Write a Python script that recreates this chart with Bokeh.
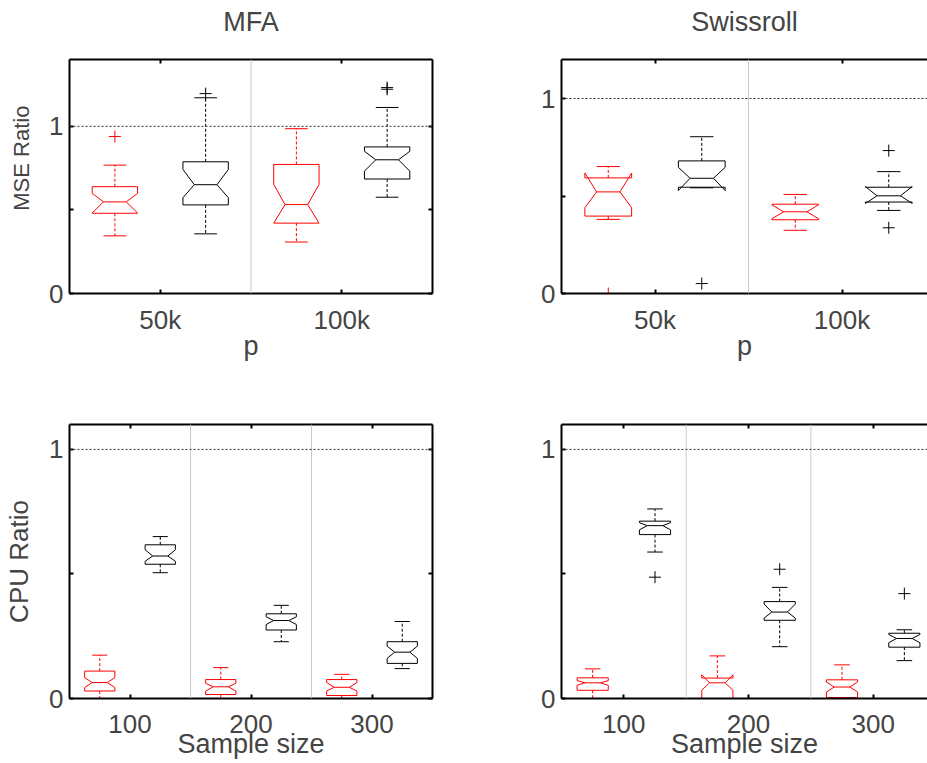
from bokeh.plotting import figure
from bokeh.models import Range1d, LinearAxis, FixedTicker, Span
from bokeh.layouts import column, row
from bokeh.embed import file_html
from bokeh.resources import INLINE

FONT = "Liberation Sans"
RED = "#ff0000"
BLACK = "#000000"

# ---------------- data ----------------
# Top-left: MFA, MSE ratio, groups p = 50k, 100k
mse_groups = ["50k", "100k"]
mfa_mse_red = dict(whi=[0.768, 0.986], q3=[0.639, 0.772], nhi=[0.599, 0.653], med=[0.548, 0.532],
                   nlo=[0.482, 0.421], q1=[0.480, 0.421], wlo=[0.345, 0.308])
mfa_mse_red_out_g = [1]
mfa_mse_red_out_v = [0.939]
mfa_mse_black = dict(whi=[1.171, 1.113], q3=[0.788, 0.877], nhi=[0.742, 0.851], med=[0.651, 0.800],
                     nlo=[0.573, 0.732], q1=[0.530, 0.685], wlo=[0.357, 0.576])
mfa_mse_black_out_g = [1, 2, 2]
mfa_mse_black_out_v = [1.196, 1.222, 1.232]

# Top-right: Swissroll, MSE ratio
sw_mse_red = dict(whi=[0.651, 0.508], q3=[0.593, 0.458], nhi=[0.618, 0.455], med=[0.521, 0.419],
                  nlo=[0.440, 0.383], q1=[0.397, 0.378], wlo=[0.380, 0.324])
sw_mse_red_out_g = [1]
sw_mse_red_out_v = [0.0]
sw_mse_black = dict(whi=[0.804, 0.625], q3=[0.680, 0.545], nhi=[0.647, 0.548], med=[0.591, 0.501],
                    nlo=[0.528, 0.462], q1=[0.545, 0.469], wlo=[0.542, 0.426])
sw_mse_black_out_g = [1, 2, 2]
sw_mse_black_out_v = [0.051, 0.733, 0.337]

# Bottom-left: MFA, CPU ratio, groups sample size = 100, 200, 300
cpu_groups = ["100", "200", "300"]
mfa_cpu_red = dict(whi=[0.174, 0.124, 0.097], q3=[0.110, 0.076, 0.076], nhi=[0.084, 0.061, 0.064],
                   med=[0.064, 0.047, 0.045], nlo=[0.044, 0.030, 0.030], q1=[0.030, 0.016, 0.012],
                   wlo=[0.0, 0.0, 0.0])
mfa_cpu_black = dict(whi=[0.650, 0.374, 0.309], q3=[0.617, 0.340, 0.228], nhi=[0.597, 0.328, 0.210],
                     med=[0.572, 0.313, 0.186], nlo=[0.551, 0.297, 0.161], q1=[0.539, 0.275, 0.141],
                     wlo=[0.505, 0.228, 0.120])

# Bottom-right: Swissroll, CPU ratio
sw_cpu_red = dict(whi=[0.119, 0.171, 0.135], q3=[0.083, 0.082, 0.075], nhi=[0.072, 0.095, 0.066],
                  med=[0.063, 0.063, 0.046], nlo=[0.053, 0.033, 0.026], q1=[0.033, 0.0, 0.004],
                  wlo=[0.0, 0.0, 0.0])
sw_cpu_black = dict(whi=[0.761, 0.446, 0.276], q3=[0.712, 0.389, 0.262], nhi=[0.706, 0.379, 0.257],
                    med=[0.694, 0.347, 0.241], nlo=[0.677, 0.323, 0.224], q1=[0.658, 0.314, 0.206],
                    wlo=[0.588, 0.208, 0.152])
sw_cpu_black_out_g = [1, 2, 3]
sw_cpu_black_out_v = [0.487, 0.519, 0.421]

y_major = [0, 1]
y_minor = [0.5]

# ---------------- helpers ----------------
W = 0.125      # box half width
WI = 0.0625    # notch inner half width
CAP = 0.0625   # whisker cap half width
OFF = 0.25     # offset of each series from the group centre


def draw_boxes(p, st, color, shift, out_g=None, out_v=None):
    n = len(st["med"])
    pos = [g + 1 + shift for g in range(n)]
    xs, ys = [], []
    for i, c in enumerate(pos):
        xs.append([c - W, c - W, c - WI, c - W, c - W, c + W, c + W, c + WI, c + W, c + W, c - W])
        ys.append([st["q1"][i], st["nlo"][i], st["med"][i], st["nhi"][i], st["q3"][i], st["q3"][i],
                   st["nhi"][i], st["med"][i], st["nlo"][i], st["q1"][i], st["q1"][i]])
    p.segment(x0=pos, y0=st["q3"], x1=pos, y1=st["whi"], line_color=color, line_width=1, line_dash="3 2")
    p.segment(x0=pos, y0=st["q1"], x1=pos, y1=st["wlo"], line_color=color, line_width=1, line_dash="3 2")
    p.segment(x0=[c - CAP for c in pos], y0=st["whi"], x1=[c + CAP for c in pos], y1=st["whi"],
              line_color=color, line_width=1)
    p.segment(x0=[c - CAP for c in pos], y0=st["wlo"], x1=[c + CAP for c in pos], y1=st["wlo"],
              line_color=color, line_width=1)
    p.multi_line(xs, ys, line_color=color, line_width=1)
    p.segment(x0=[c - WI for c in pos], y0=st["med"], x1=[c + WI for c in pos], y1=st["med"],
              line_color=color, line_width=1)
    if out_g:
        p.scatter(x=[g + shift for g in out_g], y=out_v, marker="cross", size=12,
                  line_color=color, line_width=1)


def style_ticks(ax):
    ax.major_tick_in = 4
    ax.major_tick_out = 0
    ax.major_tick_line_width = 2
    ax.minor_tick_in = 4
    ax.minor_tick_out = 0
    ax.minor_tick_line_width = 2
    ax.minor_tick_line_color = BLACK
    ax.axis_line_width = 2
    ax.axis_line_color = BLACK


def tick_axis(ticks, label=None, standoff=0):
    ax = LinearAxis(ticker=FixedTicker(ticks=[], minor_ticks=list(ticks)))
    style_ticks(ax)
    ax.major_label_standoff = 0
    if label:
        ax.axis_label = label
        ax.axis_label_text_font = FONT
        ax.axis_label_text_font_size = "27px"
        ax.axis_label_text_font_style = "normal"
        ax.axis_label_standoff = standoff
    return ax


def make_fig(width, height, xr, yr, xticks, xlabels, borders, title, ylabel, ylabel_fs,
             xlabel, right_axis, ylab_standoff, xtick_standoff, xlab_standoff):
    p = figure(width=width, height=height, x_range=Range1d(*xr), y_range=Range1d(*yr),
               output_backend="svg", toolbar_location=None,
               x_axis_location=None, y_axis_location=None,
               min_border_left=borders[0], min_border_right=borders[1],
               min_border_top=borders[2], min_border_bottom=borders[3])
    p.outline_line_color = None
    p.background_fill_color = "white"
    p.border_fill_color = "white"
    p.xgrid.grid_line_color = None
    p.ygrid.grid_line_color = None

    ya = LinearAxis(ticker=FixedTicker(ticks=y_major, minor_ticks=y_minor))
    ya.major_label_overrides = {t: str(t) for t in y_major}
    ya.major_label_text_font = FONT
    ya.major_label_text_font_size = "26px"
    ya.major_label_standoff = 6
    style_ticks(ya)
    if ylabel:
        ya.axis_label = ylabel
        ya.axis_label_text_font = FONT
        ya.axis_label_text_font_size = ylabel_fs
        ya.axis_label_text_font_style = "normal"
        ya.axis_label_standoff = ylab_standoff
    p.add_layout(ya, "left")

    xa = LinearAxis(ticker=FixedTicker(ticks=xticks))
    xa.major_label_overrides = {t: lab for t, lab in zip(xticks, xlabels)}
    xa.major_label_text_font = FONT
    xa.major_label_text_font_size = "26px"
    xa.major_label_standoff = xtick_standoff
    style_ticks(xa)
    xa.axis_label = xlabel
    xa.axis_label_text_font = FONT
    xa.axis_label_text_font_size = "27px"
    xa.axis_label_text_font_style = "normal"
    xa.axis_label_standoff = xlab_standoff
    p.add_layout(xa, "below")

    # top frame edge with ticks; panel title as its label
    p.add_layout(tick_axis(xticks, title, 23), "above")
    if right_axis:
        p.add_layout(tick_axis(y_major + y_minor), "right")

    for k in range(len(xticks) - 1):
        p.add_layout(Span(location=xticks[k] + 0.5, dimension="height", line_color="#c8c8c8", line_width=1))
    p.add_layout(Span(location=1, dimension="width", line_color="#333333", line_width=1, line_dash="2 2"))
    return p


# ---------------- panels ----------------
NB = "\u00a0" * 6  # nudges the MSE label upward along the axis, as in the original

p1 = make_fig(480, 400, (0.5, 2.5), (0, 1.4), [1, 2], mse_groups,
              (69, 48, 58, 107), "MFA", NB + "MSE Ratio", "22px", "p", True, 12, 11, -7)
draw_boxes(p1, mfa_mse_red, RED, -OFF, mfa_mse_red_out_g, mfa_mse_red_out_v)
draw_boxes(p1, mfa_mse_black, BLACK, OFF, mfa_mse_black_out_g, mfa_mse_black_out_v)

p2 = make_fig(447, 400, (0.5, 2.5 - 8 / 187), (0, 1.2), [1, 2], mse_groups,
              (81, 0, 59, 107), "Swissroll", None, None, "p", False, 0, 11, -7)
draw_boxes(p2, sw_mse_red, RED, -OFF, sw_mse_red_out_g, sw_mse_red_out_v)
draw_boxes(p2, sw_mse_black, BLACK, OFF, sw_mse_black_out_g, sw_mse_black_out_v)

p3 = make_fig(480, 363, (0.5, 3.5), (0, 1.1), [1, 2, 3], cpu_groups,
              (69, 48, 24, 64), None, "CPU Ratio", "26px", "Sample size", True, 12, 16, -7)
draw_boxes(p3, mfa_cpu_red, RED, -OFF)
draw_boxes(p3, mfa_cpu_black, BLACK, OFF)

p4 = make_fig(447, 363, (0.5, 3.5 - 8 / 124.3), (0, 1.1), [1, 2, 3], cpu_groups,
              (81, 0, 21, 65), None, None, None, "Sample size", False, 0, 16, -7)
draw_boxes(p4, sw_cpu_red, RED, -OFF)
draw_boxes(p4, sw_cpu_black, BLACK, OFF, sw_cpu_black_out_g, sw_cpu_black_out_v)

layout = column(row(p1, p2), row(p3, p4))
open("out.html", "w").write(file_html(layout, INLINE))
